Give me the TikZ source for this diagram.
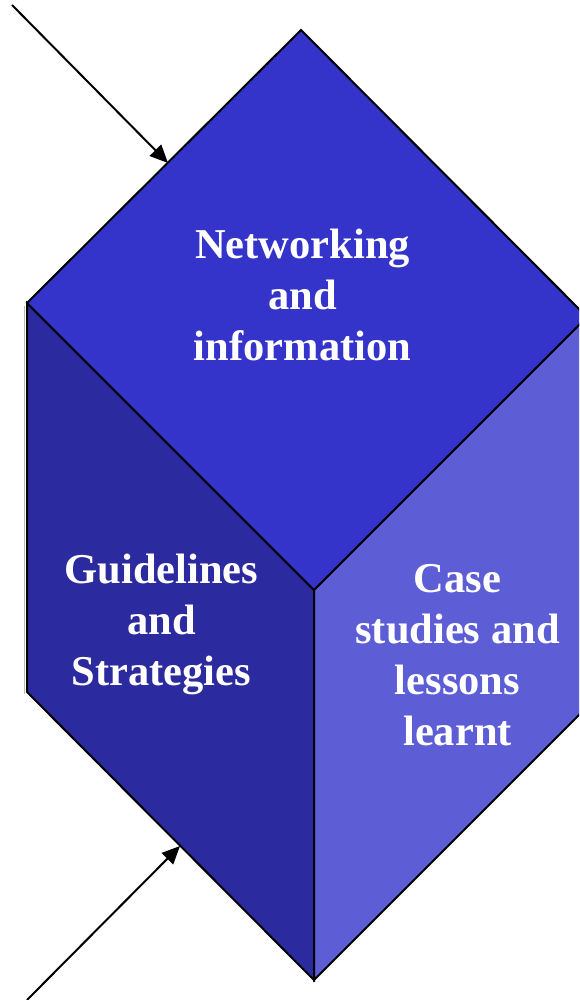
\documentclass[tikz,border=0pt]{standalone}
\usepackage{fontspec}
\setmainfont{Liberation Serif}
\usetikzlibrary{arrows.meta}
\definecolor{topface}{HTML}{3434CB}
\definecolor{leftface}{HTML}{2C2A9F}
\definecolor{rightface}{HTML}{5D5DD6}
\tikzset{
  face/.style={draw=black, line width=2pt, line join=miter},
  facetext/.style={text=white, align=center, inner sep=0pt,
    font=\fontsize{42.5}{51}\selectfont\bfseries},
  inarrow/.style={draw=black, line width=2pt, -{Triangle[length=18pt,width=16pt]}}
}
\begin{document}
\begin{tikzpicture}[x=1pt,y=-1pt]
\useasboundingbox (0,0) rectangle (579,1000);
\clip (0,0) rectangle (579,1000);
\coordinate (T) at (301,30);
\coordinate (L) at (27,303);
\coordinate (R) at (587,317);
\coordinate (C) at (314,590);
\coordinate (LB) at (27,692);
\coordinate (B) at (314,980);
\coordinate (RB) at (587,707);
\fill[white] (0,0) rectangle (579,1000);
% shadow on left edge
\draw[gray!55, line width=1.2pt] (24.5,306) -- (24.5,694);
% faces
\filldraw[face, fill=leftface] (L) -- (C) -- (B) -- (LB) -- cycle;
\filldraw[face, fill=rightface] (C) -- (R) -- (RB) -- (B) -- cycle;
\filldraw[face, fill=topface] (T) -- (R) -- (C) -- (L) -- cycle;
% texts
\node[facetext] (net) at (302.5,295) {Networking\\and\\information};
\node[facetext] (gui) at (161.5,624) {Guidelines\\and\\Strategies};
\node[facetext] (cas) at (457.5,655) {Case\\studies and\\lessons\\learnt};
% arrows
\coordinate (a1s) at (12,5);
\coordinate (a1e) at (168,163);
\coordinate (a2s) at (27,1000);
\coordinate (a2e) at (180,846);
\draw[inarrow] (a1s) -- (a1e);
\draw[inarrow] (a2s) -- (a2e);
\end{tikzpicture}
\end{document}
